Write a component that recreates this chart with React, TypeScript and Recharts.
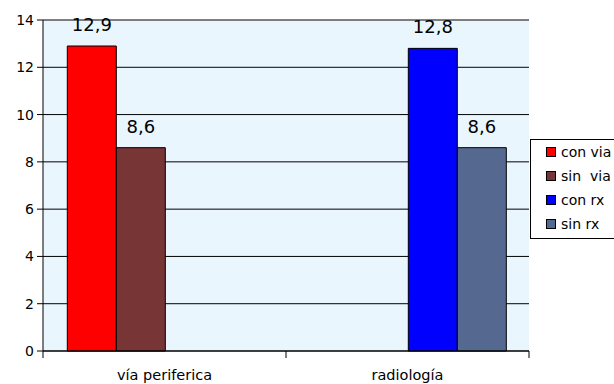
import { BarChart, Bar, XAxis, YAxis, CartesianGrid, Legend, LabelList, ReferenceLine } from "recharts";

const categories = ["vía periferica", "radiología"];
const conVia = [12.9, null];
const sinVia = [8.6, null];
const conRx = [null, 12.8];
const sinRx = [null, 8.6];
const yTicks = [0, 2, 4, 6, 8, 10, 12, 14];

const series = [
  { key: "conVia", name: "con via", color: "#ff0000" },
  { key: "sinVia", name: "sin  via", color: "#773535" },
  { key: "conRx", name: "con rx", color: "#0000ff" },
  { key: "sinRx", name: "sin rx", color: "#556990" },
];

const data = categories.map((name, i) => ({
  name,
  conVia: conVia[i],
  sinVia: sinVia[i],
  conRx: conRx[i],
  sinRx: sinRx[i],
}));

const font = "'DejaVu Sans', sans-serif";
const TICK_GAP = 12;

const fmt = (v: any) => (v == null ? "" : String(v).replace(".", ","));

// category label plus tick marks on the band edges rather than the centre
function CategoryTick(props: any) {
  const { x, y, payload, index, visibleTicksCount } = props;
  const half = payload.offset || 0;
  const axisY = y - TICK_GAP;
  const isLast = index === visibleTicksCount - 1;
  return (
    <g>
      <line x1={x - half} x2={x - half} y1={axisY} y2={axisY + 7} stroke="#000" />
      {isLast && <line x1={x + half} x2={x + half} y1={axisY} y2={axisY + 7} stroke="#000" />}
      <text x={x} y={y + 7} dy="0.71em" textAnchor="middle" fill="#000" fontSize={14.5} fontFamily={font}>
        {payload.value}
      </text>
    </g>
  );
}

function LegendBox() {
  return (
    <div
      style={{
        border: "1px solid #000",
        background: "#fff",
        width: 90,
        height: 100,
        boxSizing: "border-box",
        padding: "0 0 0 15px",
        fontFamily: font,
        fontSize: 14,
        color: "#000",
      }}
    >
      {series.map((s) => (
        <div key={s.key} style={{ display: "flex", alignItems: "center", height: 24, whiteSpace: "pre" }}>
          <span
            style={{
              display: "inline-block",
              width: 8,
              height: 8,
              background: s.color,
              border: "1px solid #000",
              marginRight: 5,
            }}
          />
          {s.name}
        </div>
      ))}
    </div>
  );
}

export default function App() {
  return (
    <div style={{ position: "absolute", left: 0, top: 0, width: 614, height: 384, overflow: "hidden", background: "#fff" }}>
      <BarChart
        width={614}
        height={384}
        data={data}
        margin={{ top: 20, right: 85, left: 0, bottom: 0 }}
        barCategoryGap="10%"
        barGap={0}
      >
        <CartesianGrid vertical={false} stroke="#000" fill="#eaf6fd" />
        <XAxis
          dataKey="name"
          height={33}
          stroke="#000"
          tickLine={false}
          tickSize={0}
          tickMargin={TICK_GAP}
          tick={<CategoryTick />}
        />
        <YAxis
          domain={[0, 14]}
          ticks={yTicks}
          width={43}
          stroke="#000"
          tickSize={6}
          tickMargin={3}
          tick={{ fill: "#000", fontSize: 14, fontFamily: font }}
        />
        <YAxis yAxisId="edge" orientation="right" width={0} tick={false} tickLine={false} stroke="#808080" />
        <ReferenceLine y={14} stroke="#808080" />
        <Legend
          layout="vertical"
          align="center"
          verticalAlign="middle"
          wrapperStyle={{ left: 530, top: 139, width: 90, height: 100 }}
          content={() => <LegendBox />}
        />
        {series.map((s) => (
          <Bar key={s.key} dataKey={s.key} name={s.name} fill={s.color} stroke="#000" strokeWidth={1} isAnimationActive={false}>
            <LabelList
              dataKey={s.key}
              position="top"
              offset={15}
              formatter={fmt}
              style={{ fill: "#000", fontSize: 18, fontFamily: font }}
            />
          </Bar>
        ))}
      </BarChart>
    </div>
  );
}
